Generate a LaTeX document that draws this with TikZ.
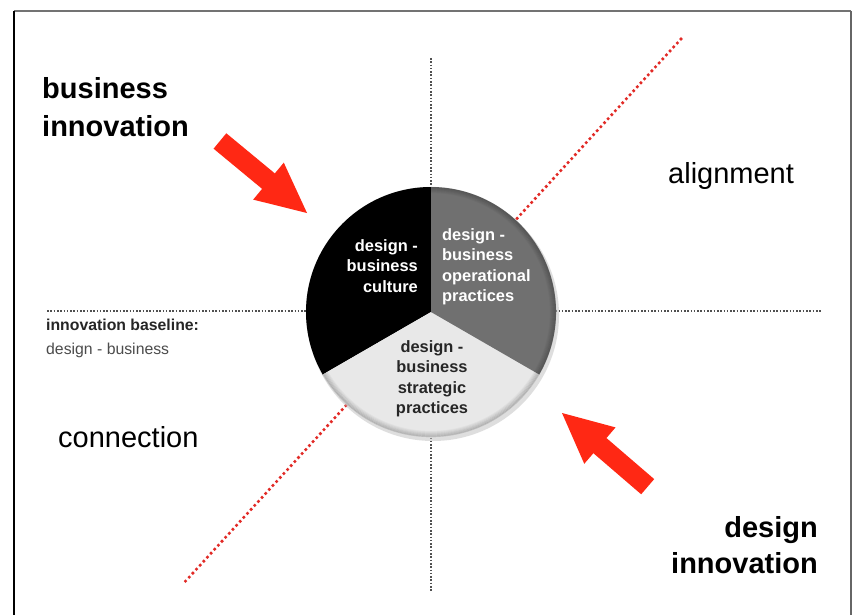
\documentclass[tikz,border=0pt]{standalone}
\usepackage{fontspec}
\setmainfont{Liberation Sans}
\definecolor{arrowred}{RGB}{255,40,20}
\definecolor{dotred}{RGB}{226,42,38}
\definecolor{gridgray}{RGB}{80,80,80}
\definecolor{sectgray}{RGB}{112,112,112}
\definecolor{sectlight}{RGB}{232,232,232}
\begin{document}
\begin{tikzpicture}[x=1pt,y=-1pt,
  bigbold/.style={font=\fontsize{29}{37}\selectfont\bfseries, inner sep=0pt},
  bigreg/.style={font=\fontsize{29}{37}\selectfont, inner sep=0pt},
  smalltxt/.style={font=\fontsize{15.8}{18}\selectfont, inner sep=0pt},
  smallbold/.style={font=\fontsize{15.8}{18}\selectfont\bfseries, inner sep=0pt},
  pietxt/.style={font=\fontsize{16.4}{20.5}\selectfont\bfseries, inner sep=0pt},
  griddots/.style={gridgray, line width=1.6pt, dash pattern=on 1.6pt off 1.7pt},
  reddots/.style={dotred, line width=3.6pt, line cap=round, dash pattern=on 0pt off 5.4pt},
  fatarrow/.style={fill=arrowred}]
\useasboundingbox (0,0) rectangle (858,615);
\fill[white] (0,0) rectangle (858,615);
% frame
\draw[black!55, line width=2pt] (14,11) -- (851,11);
\draw[black!60, line width=2pt] (851,11) -- (851,615);
\draw[black, line width=1.6pt] (14,11) -- (14,615);
% axes
\coordinate (vtop) at (431,58);
\coordinate (vbot) at (431,591);
\coordinate (hleft) at (47,311);
\coordinate (hright) at (821,311);
\coordinate (rtop) at (681,39);
\coordinate (rbot) at (182,585);
\draw[griddots] (vtop) -- (vbot);
\draw[griddots] (hleft) -- (hright);
\draw[reddots] (rtop) -- (rbot);
% pie
\coordinate (c) at (431,312);
\begin{scope}[shift={(c)}, yscale=-1]
  \fill[black!25, opacity=0.5] (2,-3) circle (126);
  \fill[black] (0,0) -- (90:125) arc (90:210:125) -- cycle;
  \fill[sectlight] (0,0) -- (210:125) arc (210:330:125) -- cycle;
  \fill[sectgray] (0,0) -- (330:125) arc (-30:90:125) -- cycle;
  \foreach \i in {0,...,6}
    \draw[black, opacity=0.03*\i, line width=1.2pt] (0,0) circle (118.5+\i);
\end{scope}
\node[pietxt, white, align=right, anchor=east] (culture) at (418,266) {design -\\business\\culture};
\node[pietxt, white, align=left, anchor=west] (oper) at (442,267) {design -\\business\\operational\\practices};
\node[pietxt, black!85, align=center] (strat) at (432,379) {design -\\business\\strategic\\practices};
% labels
\node[bigbold, anchor=base west] (bi1) at (42,99) {business};
\node[bigbold, anchor=base west] (bi2) at (42,136) {innovation};
\node[bigreg, anchor=base west] (align) at (668,183) {alignment};
\node[bigreg, anchor=base west] (conn) at (58,447) {connection};
\node[bigbold, anchor=base east] (di1) at (818,537) {design};
\node[bigbold, anchor=base east] (di2) at (818,573) {innovation};
\node[smallbold, black!85, anchor=base west] (ib1) at (46,330) {innovation baseline:};
\node[smalltxt, black!70, anchor=base west] (ib2) at (46,354) {design - business};
% red arrows
\begin{scope}[shift={(307,213)}, rotate=-39.6]
  \fill[fatarrow] (0,0) -- (-50,24) -- (-50,10) -- (-113,10) -- (-113,-10) -- (-50,-10) -- (-50,-24) -- cycle;
\end{scope}
\begin{scope}[shift={(562,413)}, rotate=139.3]
  \fill[fatarrow] (0,0) -- (-50,24) -- (-50,10) -- (-113,10) -- (-113,-10) -- (-50,-10) -- (-50,-24) -- cycle;
\end{scope}
\end{tikzpicture}
\end{document}
